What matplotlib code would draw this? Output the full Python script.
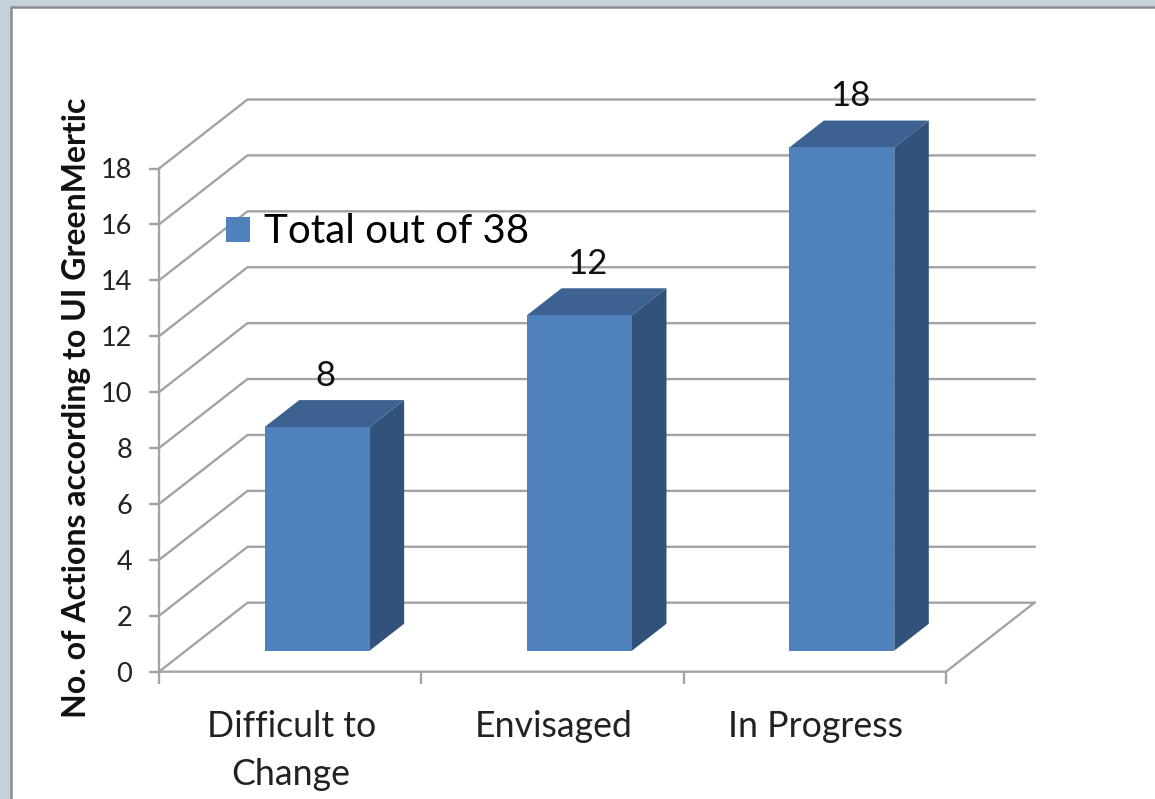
import matplotlib
matplotlib.use("Agg")
import matplotlib.pyplot as plt
from matplotlib.patches import Patch, Rectangle

plt.rcParams['font.family'] = ['Lato', 'DejaVu Sans']

categories = ["Difficult to\nChange", "Envisaged", "In Progress"]
values = [8, 12, 18]
y_ticks = list(range(0, 20, 2))
series_name = "Total out of 38"

W, H = 1155, 799
fig = plt.figure(figsize=(W / 100, H / 100), dpi=100, facecolor="#c5d1d9")

# slide background
fig.add_artist(Rectangle((11 / W, -0.02), 1.0, 1.02 - 6.5 / H, transform=fig.transFigure,
                         facecolor="white", edgecolor="#8c8c8c", lw=1.8, zorder=-5))

L, R, T, B = 159, 946, 168.5, 671.7
ax = fig.add_axes([L / W, 1 - B / H, (R - L) / W, (B - T) / H])
ax.set_xlim(0, 3)
ax.set_ylim(0, 18)
ax.patch.set_alpha(0)
for s in ax.spines.values():
    s.set_visible(False)

DX = 88.5 / ((R - L) / 3)        # category units for the full chart depth
DY = 69 / ((B - T) / 18)         # value units for the full chart depth
GRID = "#a3a3a3"
LW = 1.7


def px(x, y, d):
    return x + d * DX, y + d * DY


# walls and floor
for v in y_ticks:
    x0, y0 = px(0, v, 1)
    x1, y1 = px(3, v, 1)
    ax.plot([0, x0, x1], [v, y0, y1], color=GRID, lw=LW, clip_on=False, zorder=1,
            solid_joinstyle="miter")
ax.plot([0, 0], [0, 18], color=GRID, lw=LW, clip_on=False, zorder=1)
ax.plot([0, 3, px(3, 0, 1)[0]], [0, 0, px(3, 0, 1)[1]], color=GRID, lw=LW,
        clip_on=False, zorder=1)

# ticks
ax.set_yticks(y_ticks)
ax.set_xticks([0, 1, 2, 3])
ax.set_xticklabels([])
ax.tick_params(axis="x", color=GRID, width=LW, length=8.5)
ax.tick_params(axis="y", color=GRID, width=LW, length=7.2, labelsize=19.5,
               labelcolor="#222222", pad=12)

# 3-D bars
WIDTH = 0.4
D0, D1 = 0.305, 0.695
for i, v in enumerate(values):
    c = i + 0.5
    xl, xr = c - WIDTH / 2, c + WIDTH / 2
    base = px(c, 0, D0)
    ax.bar(base[0], v, WIDTH, bottom=base[1], color="#4f81bd", linewidth=0,
           zorder=4, clip_on=False)
    corners = [(xr, 0, D0), (xr, 0, D1), (xr, v, D1), (xr, v, D0)]
    ax.fill(*zip(*[px(*p) for p in corners]), color="#31527b", lw=0, zorder=3, clip_on=False)
    corners = [(xl, v, D0), (xl, v, D1), (xr, v, D1), (xr, v, D0)]
    ax.fill(*zip(*[px(*p) for p in corners]), color="#3b6291", lw=0, zorder=3, clip_on=False)
    ax.annotate(str(v), xy=(base[0], base[1] + v), xytext=(8, 51), textcoords="offset pixels",
                ha="center", va="center", fontsize=25, color="#111111", zorder=5,
                annotation_clip=False)

# category labels
for i, name in enumerate(categories):
    ax.annotate(name, xy=(i + 0.5, 0), xytext=(1, -38), textcoords="offset pixels",
                ha="center", va="top", fontsize=25.7, color="#222222", linespacing=1.55,
                annotation_clip=False)

fig.text(77 / W, 1 - 408 / H, "No. of Actions according to UI GreenMertic", rotation=90,
         ha="center", va="center", fontsize=23, fontweight="bold", color="#111111")

leg = ax.legend(handles=[Patch(facecolor="#4f81bd", label=series_name)],
                loc="center left", bbox_to_anchor=(226 / W, 1 - 232 / H),
                bbox_transform=fig.transFigure, frameon=False, fontsize=29,
                handlelength=0.6, handleheight=0.6, handletextpad=0.35, borderpad=0,
                borderaxespad=0)
leg.set_zorder(6)

fig.savefig("out.png", dpi=100, facecolor=fig.get_facecolor())
